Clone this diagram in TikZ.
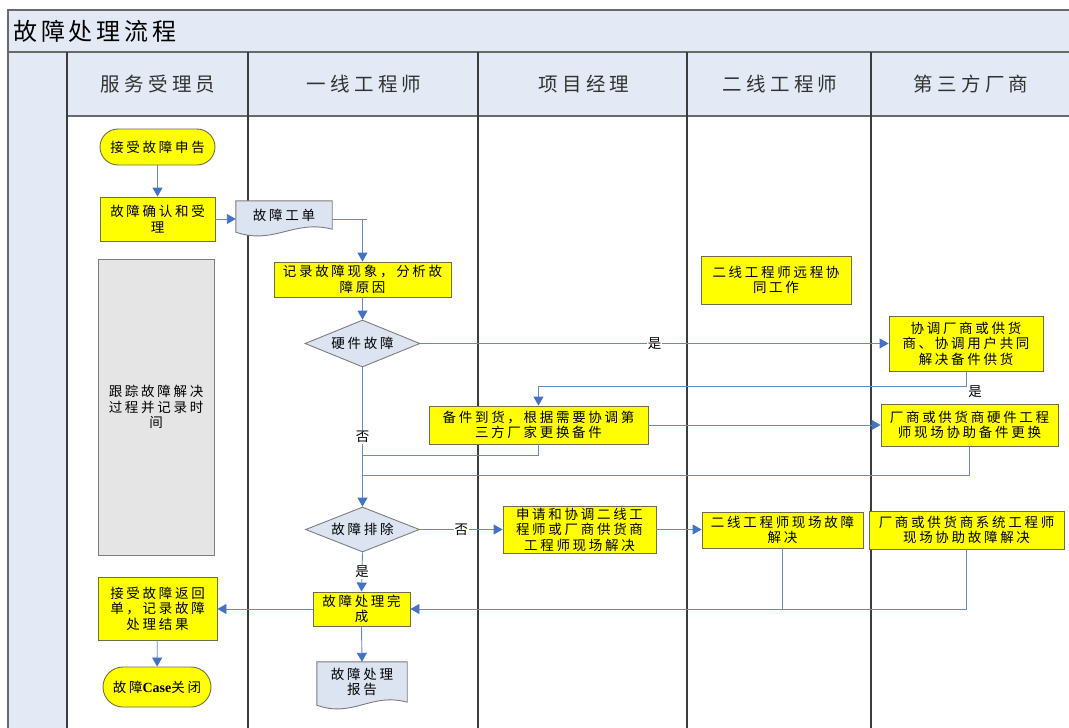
\documentclass[tikz,border=0pt]{standalone}
\usepackage{fontspec}
\usetikzlibrary{arrows.meta,shapes.geometric,backgrounds,calc}
\newfontfamily\cjk[LetterSpace=20]{Noto Sans CJK SC}
\newfontfamily\cjkhd[LetterSpace=22]{Noto Sans CJK SC}
\newfontfamily\cjkti[LetterSpace=16]{Noto Sans CJK SC}
\newfontfamily\cjkpl{Noto Sans CJK SC}
\newfontfamily\latser{Liberation Serif}
\definecolor{lanefill}{RGB}{228,234,245}
\definecolor{frameln}{RGB}{105,105,105}
\definecolor{laneln}{RGB}{60,60,60}
\definecolor{yborder}{RGB}{110,110,75}
\definecolor{yfill}{RGB}{255,255,0}
\definecolor{grayfill}{RGB}{229,229,229}
\definecolor{grayborder}{RGB}{125,125,125}
\definecolor{docfill}{RGB}{220,228,242}
\definecolor{linecol}{RGB}{100,140,205}
\definecolor{arrowcol}{RGB}{68,114,196}
\definecolor{headtxt}{RGB}{50,50,50}
\newcommand\mydocshape[1]{%
  \filldraw[docstyle] (#1.north west) -- (#1.north east) -- (#1.south east)
    .. controls ($(#1.south east)!0.4!(#1.south west)+(0,-10)$) and ($(#1.south west)!0.4!(#1.south east)+(0,16)$) .. ($(#1.south west)+(0,3)$) -- cycle;}
\begin{document}
\begin{tikzpicture}[x=1pt,y=-1pt,
  txt/.style={font={\cjk\fontsize{13.5}{15.5}\selectfont}, align=center, inner sep=0pt},
  ybox/.style={txt, draw=yborder, fill=yfill, line width=0.9pt},
  gbox/.style={txt, draw=grayborder, fill=grayfill, line width=0.9pt},
  term/.style={ybox},
  docnode/.style={txt},
  docstyle/.style={draw=grayborder, fill=docfill, line width=0.9pt},
  dec/.style={txt, shape=diamond, aspect=2.45, draw=grayborder, fill=docfill, line width=0.9pt},
  headtext/.style={font={\cjkhd\fontsize{19.5}{22}\selectfont}, text=headtxt, inner sep=0pt},
  titletext/.style={font={\cjkti\fontsize{24}{27}\selectfont}, text=black, inner sep=0pt},
  lbl/.style={font={\cjkpl\fontsize{13.5}{15}\selectfont}, fill=white, inner sep=1pt},
  conn/.style={draw=linecol, line width=0.9pt},
  arr/.style={conn, -{Triangle[length=9pt,width=10pt,color=arrowcol]}},
  frameline/.style={draw=frameln, line width=1.2pt},
  laneline/.style={draw=laneln, line width=1.2pt}]
\useasboundingbox (0,0) rectangle (1069,728);
\begin{scope}[on background layer]
  \fill[white] (0,0) rectangle (1069,728);
  \fill[lanefill] (8,10) rectangle (1080,52);
  \fill[lanefill] (8,52) rectangle (67,740);
  \fill[lanefill] (67,52) rectangle (1080,116);
  \draw[frameline] (1080,10) -- (8,10) -- (8,740);
  \draw[frameline] (8,52) -- (1080,52);
  \draw[frameline] (67,116) -- (1080,116);
  \foreach \x in {67,248,478,687,871} \draw[laneline] (\x,52) -- (\x,740);
\end{scope}

% title and headers
\node[titletext, anchor=west] (title) at (13,31) {故障处理流程};
\node[headtext] (h1) at (158,84) {服务受理员};
\node[headtext] (h2) at (364,84) {一线工程师};
\node[headtext] (h3) at (584,84) {项目经理};
\node[headtext] (h4) at (780,84) {二线工程师};
\node[headtext] (h5) at (971,84) {第三方厂商};

% nodes
\node[term, rounded corners=18pt, minimum width=115, minimum height=36] (n1) at (157.5,147) {接受故障申告};
\node[ybox, minimum width=115, minimum height=44] (n2) at (157.5,219) {故障确认和受\\理};
\node[gbox, minimum width=116, minimum height=296] (gb) at (156,407) {跟踪故障解决\\过程并记录时\\间};
\node[docnode, minimum width=96, minimum height=28] (d1) at (284,215) {故障工单};
\node[ybox, minimum width=177, minimum height=35] (n4) at (362.5,279.5) {记录故障现象，分析故\\障原因};
\node[dec, minimum width=115, minimum height=47] (dia1) at (362.5,343.5) {硬件故障};
\node[ybox, minimum width=150, minimum height=48] (n15) at (776,280) {二线工程师远程协\\同工作};
\node[ybox, minimum width=154, minimum height=55] (n5) at (966,343.5) {协调厂商或供货\\商、协调用户共同\\解决备件供货};
\node[ybox, minimum width=219, minimum height=38] (n6) at (538.5,425) {备件到货，根据需要协调第\\三方厂家更换备件};
\node[ybox, minimum width=177, minimum height=42] (n7) at (969.5,425) {厂商或供货商硬件工程\\师现场协助备件更换};
\node[dec, minimum width=114, minimum height=45] (dia2) at (362.5,529.5) {故障排除};
\node[ybox, minimum width=153, minimum height=47] (n8) at (579.5,529.5) {申请和协调二线工\\程师或厂商供货商\\工程师现场解决};
\node[ybox, minimum width=161, minimum height=36] (n9) at (782.5,530) {二线工程师现场故障\\解决};
\node[ybox, minimum width=195, minimum height=38] (n10) at (966.5,530) {厂商或供货商系统工程师\\现场协助故障解决};
\node[ybox, minimum width=97, minimum height=34] (n11) at (361.5,609) {故障处理完\\成};
\node[ybox, minimum width=119, minimum height=63] (n12) at (157.5,608.5) {接受故障返回\\单，记录故障\\处理结果};
\node[term, rounded corners=20pt, minimum width=108, minimum height=40] (n13) at (157,687) {故障{\latser\bfseries\fontsize{14}{15}\selectfont Case}关闭};
\node[docnode, minimum width=90, minimum height=40] (d2) at (362,682) {故障处理\\报告};

% document shapes (behind their texts, above lanes)
\begin{scope}[on background layer]
  \mydocshape{d1}
  \mydocshape{d2}
\end{scope}

% connectors
\coordinate (c1) at (367,219);
\draw[arr] (n1) -- (n2);
\draw[arr] (n2.east) -- (n2.east -| d1.west);
\draw[conn] (n2.east -| d1.east) -- (c1);
\draw[arr] (c1 -| n4.north) -- (n4.north);
\draw[arr] (n4) -- (dia1);
\draw[arr] (dia1.east) -- node[lbl] (yes1) {是} (n5.west);
\draw[arr] (dia1.south) -- node[lbl] (no1) {否} (dia2.north);
\coordinate (t1) at (966,386);
\draw[arr] (n5.south) -- (t1) -| (n6.north);
\node[font={\cjkpl\fontsize{13.5}{15}\selectfont}, inner sep=0pt] (yes2) at (975,392) {是};
\draw[arr] (n6.east) -- (n6.east -| n7.west);
\coordinate (j1) at (362.5,455);
\coordinate (j2) at (362.5,475);
\draw[conn] (n6.south) |- (j1);
\draw[conn] (n7.south) |- (j2);
\draw[arr] (dia2.east) -- node[lbl] (no2) {否} (n8.west);
\draw[arr] (n8.east) -- (n8.east -| n9.west);
\draw[arr] (dia2.south) -- node[lbl] (yes3) {是} (n11.north);
\draw[arr] (n9.south) |- (n11.east);
\draw[conn] (n10.south) |- (n9.south |- n11.east);
\draw[arr] (n11.west) -- (n11.west -| n12.east);
\draw[arr] (n12) -- (n13);
\draw[arr] (n11.south) -- (d2.north);
\end{tikzpicture}
\end{document}
